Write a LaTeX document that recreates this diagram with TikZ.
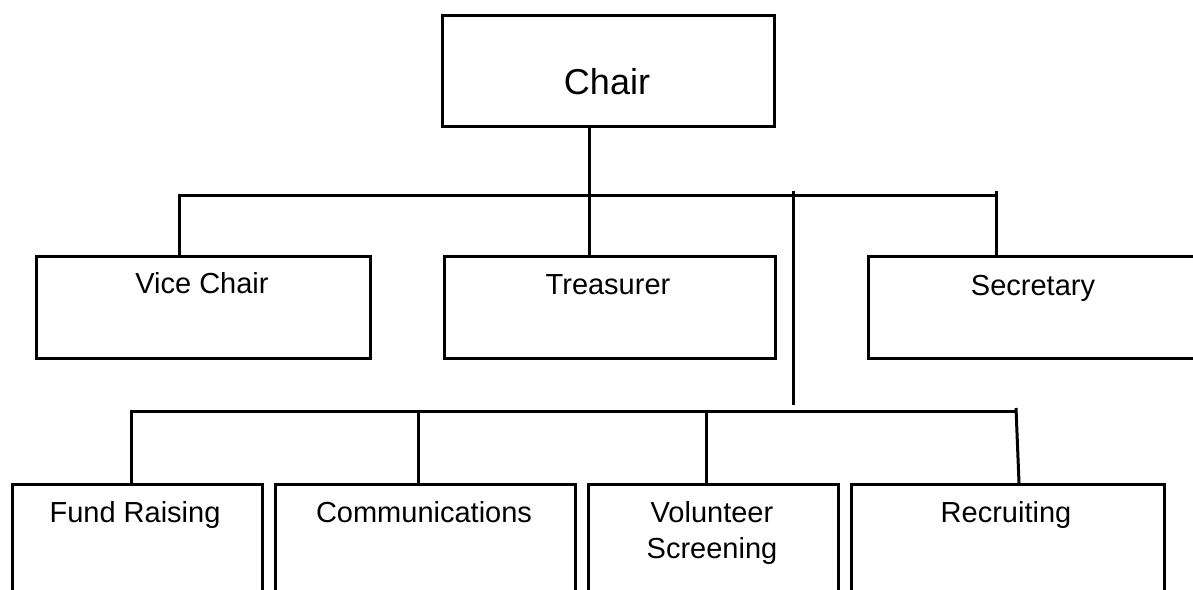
\documentclass[tikz,border=0pt]{standalone}
\usepackage{fontspec}
\setmainfont{Liberation Sans}
\usetikzlibrary{calc}
\begin{document}
\begin{tikzpicture}[x=1pt,y=-1pt,
  box/.style={draw=black,line width=3pt,rectangle,inner sep=0pt,anchor=north west},
  link/.style={draw=black,line width=3pt},
  lbl/.style={inner sep=0pt,anchor=base,font=\fontsize{29}{36}\selectfont},
  biglbl/.style={inner sep=0pt,anchor=base,font=\fontsize{36}{43}\selectfont}]
\useasboundingbox[fill=white] (0,0) rectangle (1193,589);
% boxes
\node[box,minimum width=332pt,minimum height=111pt] (chair) at (441,14) {};
\node[box,minimum width=334pt,minimum height=102pt] (vc) at (35,255) {};
\node[box,minimum width=331pt,minimum height=102pt] (tr) at (443,255) {};
\node[box,minimum width=340pt,minimum height=102pt] (sec) at (867,255) {};
\node[box,minimum width=250pt,minimum height=130pt] (fr) at (11,483) {};
\node[box,minimum width=300pt,minimum height=130pt] (com) at (274,483) {};
\node[box,minimum width=250pt,minimum height=130pt] (vol) at (587,483) {};
\node[box,minimum width=313pt,minimum height=130pt] (rec) at (850,483) {};
% labels
\node[biglbl] (chairt) at (607,94) {Chair};
\node[lbl] (vct) at (202,293) {Vice Chair};
\node[lbl] (trt) at (608,294) {Treasurer};
\node[lbl] (sect) at (1033,295) {Secretary};
\node[lbl] (frt) at (135,522) {Fund Raising};
\node[lbl] (comt) at (424,522) {Communications};
\node[lbl,align=center] (volt) at (712,558) {Volunteer\\Screening};
\node[lbl] (rect) at (1006,522) {Recruiting};
% connector coordinates
\coordinate (trunk) at (589,195);
\coordinate (busL) at (179,195);
\coordinate (busR) at (996,195);
\coordinate (secTop) at (996,191);
\coordinate (lvT) at (793,191);
\coordinate (lvB) at (793,405);
\coordinate (bbL) at (131,411);
\coordinate (bbR) at (1016,411);
\coordinate (bbRt) at (1016,408);
\coordinate (comX) at (418,411);
\coordinate (volX) at (706,411);
\coordinate (recX) at (1019,483);
% connectors
\draw[link] (chair.south -| trunk) -- (tr.north -| trunk);
\draw[link] (vc.north -| busL) -- (busL) -- (busR);
\draw[link] (secTop) -- (sec.north -| secTop);
\draw[link] (lvT) -- (lvB);
\draw[link] (fr.north -| bbL) -- (bbL) -- (bbR);
\draw[link] (comX) -- (com.north -| comX);
\draw[link] (volX) -- (vol.north -| volX);
\draw[link] (bbRt) -- (recX);
\end{tikzpicture}
\end{document}
